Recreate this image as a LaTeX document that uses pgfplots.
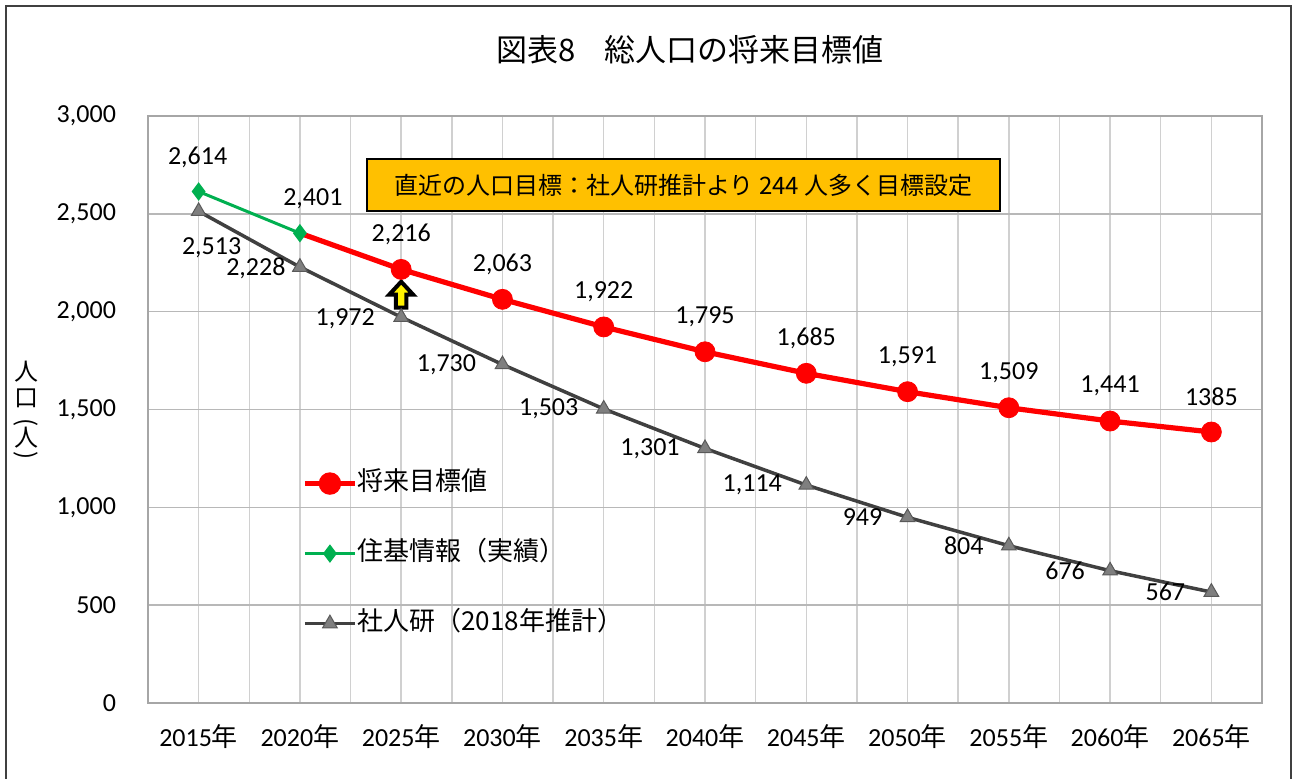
\documentclass[border=0pt]{standalone}
\usepackage{pgfplots}
\pgfplotsset{compat=1.18}
\usepackage{fontspec}
\setmainfont{Carlito}
\newfontfamily\jp{Noto Sans CJK JP}
\definecolor{cred}{HTML}{FF0000}
\definecolor{cgreen}{HTML}{00B050}
\definecolor{cgray}{HTML}{404040}
\definecolor{ctri}{HTML}{7F7F7F}
\definecolor{cbox}{HTML}{FFC000}
\definecolor{cvgrid}{HTML}{D0D0D0}
\definecolor{chgrid}{HTML}{B8B8B8}
\definecolor{caxis}{HTML}{A6A6A6}
\begin{document}
\begin{tikzpicture}
\path[use as bounding box] (0,0) rectangle (646pt,389pt);
\draw[line width=1pt, black!75] (3pt,-2pt) -- (3pt,386pt) -- (645.5pt,386pt) -- (645.5pt,-2pt);
\node[font={\jp\fontsize{15.5}{18}\selectfont}] at (345pt,364pt) {図表8\hspace{14pt}総人口の将来目標値};
% y-axis label, stacked vertically
\begin{scope}[every node/.style={font={\jp\fontsize{12}{12}\selectfont}, inner sep=0pt, anchor=center}]
\node at (13pt,203pt) {人};
\node at (13pt,190pt) {口};
\node[rotate=-90] at (13pt,177.5pt) {(};
\node at (13pt,170pt) {人};
\node[rotate=-90] at (13pt,161pt) {)};
\end{scope}
\begin{axis}[
  at={(74pt,37.5pt)}, anchor=south west,
  scale only axis, width=557pt, height=293.5pt,
  xmin=-0.5, xmax=10.5, ymin=0, ymax=3000,
  xtick={0,...,10},
  xticklabels={2015{\jp 年},2020{\jp 年},2025{\jp 年},2030{\jp 年},2035{\jp 年},2040{\jp 年},2045{\jp 年},2050{\jp 年},2055{\jp 年},2060{\jp 年},2065{\jp 年}},
  minor x tick num=1,
  ytick={0,500,...,3000},
  xmajorgrids, xminorgrids, ymajorgrids,
  major x grid style={cvgrid, line width=0.75pt},
  minor x grid style={cvgrid, line width=0.75pt},
  major y grid style={chgrid, line width=0.75pt},
  axis line style={caxis, line width=0.75pt},
  major tick length=0pt, minor tick length=0pt,
  tick style={draw=none},
  /pgf/number format/1000 sep={,},
  /pgf/number format/assume math mode=true,
  tick label style={font={\fontsize{13}{15}\selectfont}},
  yticklabel style={xshift=-12.5pt},
  xticklabel style={yshift=-7pt},
  every node near coord/.append style={text=black, anchor=center, font={\fontsize{13}{15}\selectfont}, xshift=\labdx pt, yshift=\labdy pt},
  legend image code/.code={\draw[#1, mark repeat=2, mark phase=2] plot coordinates {(0pt,0pt)(12.5pt,0pt)(25pt,0pt)};},
  legend style={at={(axis cs:1.02,1190)}, anchor=north west, draw=none, fill=none,
    font={\jp\fontsize{13}{15}\selectfont}, inner sep=0pt, row sep=22pt,
    nodes={inner sep=0pt, text height=10pt, text depth=3pt},
    /tikz/every even column/.append style={column sep=4pt}},
  legend cell align=left,
  clip=false,
]
% 社人研 (2018年推計)
\addplot[forget plot, color=cgray, line width=1.75pt, mark=triangle*, mark size=4.2pt,
  mark options={fill=ctri, draw=ctri!70!black, line width=0.5pt},
  point meta=explicit symbolic, nodes near coords,
  visualization depends on={\thisrow{dx} \as \labdx},
  visualization depends on={\thisrow{dy} \as \labdy}]
  table[x=x, y=y, meta=lab] {
x y lab dx dy
0 2513 2,513 6.5 -18
1 2228 2,228 -22 -0.5
2 1972 1,972 -28 -1
3 1730 1,730 -28 0
4 1503 1,503 -27.5 0
5 1301 1,301 -27.5 0
6 1114 1,114 -27 0
7 949 949 -22.5 0
8 804 804 -22.5 0
9 676 676 -22.5 0
10 567 567 -23 0
};
% 将来目標値 line
\addplot[forget plot, color=cred, line width=2.6pt, no marks]
  coordinates {(1,2401)(2,2216)(3,2063)(4,1922)(5,1795)(6,1685)(7,1591)(8,1509)(9,1441)(10,1385)};
% 将来目標値 markers
\addplot[forget plot, only marks, color=cred, mark=*, mark size=5pt,
  point meta=explicit symbolic, nodes near coords,
  visualization depends on={\thisrow{dx} \as \labdx},
  visualization depends on={\thisrow{dy} \as \labdy}]
  table[x=x, y=y, meta=lab] {
x y lab dx dy
2 2216 2,216 0 17.5
3 2063 2,063 0 17.5
4 1922 1,922 0 17.5
5 1795 1,795 0 17.5
6 1685 1,685 0 17.5
7 1591 1,591 0 17.5
8 1509 1,509 0 17.5
9 1441 1,441 0 17.5
10 1385 1385 0 17.5
};
% 住基情報 (実績)
\addplot[forget plot, color=cgreen, line width=1.5pt, mark=diamond*, mark size=3.4pt,
  point meta=explicit symbolic, nodes near coords,
  visualization depends on={\thisrow{dx} \as \labdx},
  visualization depends on={\thisrow{dy} \as \labdy}]
  table[x=x, y=y, meta=lab] {
x y lab dx dy
0 2614 2,614 -0.5 17
1 2401 2,401 6.5 17
};
% arrow annotation
\draw[black, line width=2pt, fill=yellow, line join=miter]
  ([xshift=-2.6pt,yshift=1pt]axis cs:2,2010) -- ([xshift=2.6pt,yshift=1pt]axis cs:2,2010)
  -- ([xshift=2.6pt,yshift=7.5pt]axis cs:2,2010) -- ([xshift=6pt,yshift=7.5pt]axis cs:2,2010)
  -- ([yshift=14pt]axis cs:2,2010) -- ([xshift=-6pt,yshift=7.5pt]axis cs:2,2010)
  -- ([xshift=-2.6pt,yshift=7.5pt]axis cs:2,2010) -- cycle;
\addlegendimage{color=cred, line width=2.6pt, mark=*, mark size=4.3pt}
\addlegendentry{将来目標値}
\addlegendimage{color=cgreen, line width=1.5pt, mark=diamond*, mark size=3.4pt}
\addlegendentry{住基情報（実績）}
\addlegendimage{color=cgray, line width=1.75pt, mark=triangle*, mark size=4.2pt, mark options={fill=ctri, draw=ctri!70!black, line width=0.5pt}}
\addlegendentry{社人研（2018年推計）}
\end{axis}
\node[draw=black, line width=1pt, fill=cbox, minimum width=316.5pt, minimum height=26pt, inner sep=0pt,
  font={\jp\fontsize{12}{12}\selectfont}] at (341.75pt,296.5pt)
  {直近の人口目標：社人研推計より 244 人多く目標設定};
\end{tikzpicture}
\end{document}
